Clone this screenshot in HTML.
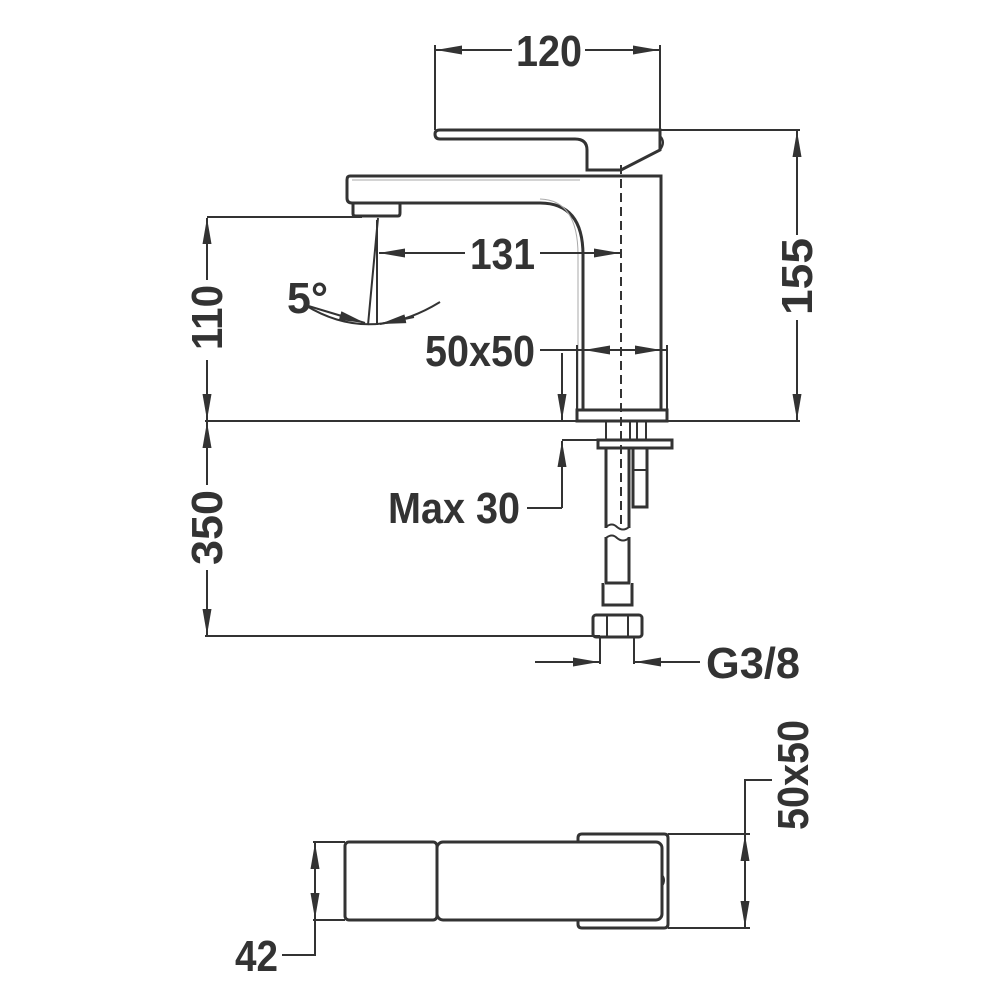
<!DOCTYPE html>
<html><head><style>body{margin:0;background:#fff}svg{display:block}text{font-family:"Liberation Sans Narrow","Liberation Sans",sans-serif;font-weight:bold;font-size:44px;fill:#333}</style></head><body>
<svg width="1000" height="1000" viewBox="0 0 1000 1000" xmlns="http://www.w3.org/2000/svg">
<defs><marker id="a" viewBox="0 0 26 10" refX="26" refY="5" markerWidth="26" markerHeight="10" markerUnits="userSpaceOnUse" orient="auto-start-reverse"><path d="M0,0.5 L26,5 L0,9.5z" fill="#333"/></marker></defs>
<g stroke="#333" fill="none" stroke-width="2">
<!-- 120 -->
<line x1="435" y1="45" x2="435" y2="130"/><line x1="660" y1="45" x2="660" y2="130"/>
<line x1="436" y1="50" x2="512" y2="50" marker-start="url(#a)"/><line x1="585" y1="50" x2="659" y2="50" marker-end="url(#a)"/>
<!-- lever -->
<path stroke-width="3" d="M440,130 H660 V150 L621,170 H587 V150 Q587,139 575,139 H440 Q435,139 435,134 Q435,130 440,130Z"/>
<path d="M660,136 Q666,142 660,150"/>
<!-- spout -->
<path stroke-width="3" d="M350,176 H661 V410 M583,410 V255 Q583,203 540,203 H352 Q347,203 347,198 V180 Q347,176 350,176"/>
<path stroke="#aaa" stroke-width="1" d="M352,180 H580 M578,410 V255 Q578,200 540,199"/>
<path stroke-width="3" d="M353,203 V214 Q353,216 356,216 H398 Q400,216 400,213 V203"/>
<rect x="577" y="410" width="90" height="11" stroke-width="3"/>
<line x1="621" y1="165" x2="621" y2="530" stroke-dasharray="9,5"/>
<!-- 131 -->
<line x1="379" y1="253" x2="465" y2="253" marker-start="url(#a)"/><line x1="540" y1="253" x2="620" y2="253" marker-end="url(#a)"/>
<line x1="207" y1="217" x2="362" y2="217"/>
<line x1="377" y1="220" x2="377" y2="325"/><line x1="378" y1="218" x2="368" y2="325"/>
<path d="M305,305 Q370,345 440,302"/>
<line x1="305" y1="305" x2="365" y2="323" marker-end="url(#a)"/><line x1="414" y1="317" x2="380" y2="324" marker-end="url(#a)"/>
<!-- 110 / 350 -->
<line x1="207" y1="218" x2="207" y2="280" marker-start="url(#a)"/><line x1="207" y1="360" x2="207" y2="420" marker-end="url(#a)"/>
<line x1="205" y1="421" x2="800" y2="421"/>
<line x1="207" y1="422" x2="207" y2="485" marker-start="url(#a)"/><line x1="207" y1="570" x2="207" y2="635" marker-end="url(#a)"/>
<line x1="205" y1="636" x2="600" y2="636"/>
<!-- 155 -->
<line x1="660" y1="130" x2="800" y2="130"/>
<line x1="797" y1="131" x2="797" y2="235" marker-start="url(#a)"/><line x1="797" y1="320" x2="797" y2="420" marker-end="url(#a)"/>
<!-- 50x50 -->
<line x1="577" y1="345" x2="577" y2="410"/><line x1="667" y1="345" x2="667" y2="410"/>
<line x1="540" y1="350" x2="667" y2="350"/>
<line x1="621" y1="350" x2="584" y2="350" marker-end="url(#a)"/><line x1="621" y1="350" x2="661" y2="350" marker-end="url(#a)"/>
<!-- max 30 -->
<line x1="562" y1="353" x2="562" y2="420" marker-end="url(#a)"/>
<line x1="562" y1="508" x2="562" y2="441" marker-end="url(#a)"/>
<line x1="562" y1="440" x2="600" y2="440"/><line x1="527" y1="508" x2="562" y2="508"/>
<!-- under base -->
<rect x="606" y="421" width="40" height="19"/>
<line x1="630" y1="421" x2="630" y2="440"/><line x1="637" y1="421" x2="637" y2="440"/>
<rect x="598" y="440" width="74" height="8" stroke-width="3"/>
<path stroke-width="3" d="M606,448 V528 M629,448 V528 M606,537 V583 M629,537 V583"/>
<path d="M606,527 Q612,522 617,527 Q623,532 629,527 M606,538 Q612,533 617,538 Q623,543 629,538"/>
<path stroke-width="3" d="M605,583 H630 M603,583 V605 H632 V583"/>
<rect x="633" y="448" width="14" height="59" stroke-width="3"/><line x1="633" y1="470" x2="647" y2="470"/>
<rect x="593" y="615" width="49" height="22" rx="3" stroke-width="3"/>
<line x1="607" y1="615" x2="607" y2="637"/><line x1="628" y1="615" x2="628" y2="637"/>
<line x1="600" y1="637" x2="600" y2="664"/><line x1="634" y1="637" x2="634" y2="664"/>
<line x1="535" y1="662" x2="599" y2="662" marker-end="url(#a)"/><line x1="700" y1="662" x2="635" y2="662" marker-end="url(#a)"/>
<!-- bottom view -->
<rect x="345" y="842" width="92" height="78" rx="4" stroke-width="3"/>
<rect x="437" y="842" width="225" height="78" rx="6" stroke-width="3"/>
<path stroke-width="3" d="M578,842 V838 Q578,834 582,834 H664 Q668,834 668,838 V924 Q668,928 664,928 H582 Q578,928 578,924 V920"/>
<path d="M662,875 Q666,880 662,886"/>
<line x1="313" y1="842" x2="345" y2="842"/><line x1="313" y1="920" x2="345" y2="920"/>
<line x1="315" y1="843" x2="315" y2="880" marker-start="url(#a)"/><line x1="315" y1="880" x2="315" y2="919" marker-end="url(#a)"/>
<path d="M315,920 V955 H282"/>
<line x1="668" y1="834" x2="750" y2="834"/><line x1="668" y1="928" x2="750" y2="928"/>
<line x1="745" y1="835" x2="745" y2="880" marker-start="url(#a)"/><line x1="745" y1="880" x2="745" y2="927" marker-end="url(#a)"/>
<path d="M745,834 V780 H772"/>
</g>
<g lengthAdjust="spacingAndGlyphs">
<text x="516" y="66" textLength="66" lengthAdjust="spacingAndGlyphs">120</text>
<text x="470" y="269" textLength="65" lengthAdjust="spacingAndGlyphs">131</text>
<text x="287" y="313" textLength="41" lengthAdjust="spacingAndGlyphs" font-size="40">5°</text>
<text x="425" y="366" textLength="110" lengthAdjust="spacingAndGlyphs">50x50</text>
<text x="388" y="523" textLength="132" lengthAdjust="spacingAndGlyphs">Max 30</text>
<text x="706" y="678" textLength="94" lengthAdjust="spacingAndGlyphs">G3/8</text>
<text x="235" y="971" textLength="43" lengthAdjust="spacingAndGlyphs">42</text>
<text transform="translate(222,350) rotate(-90)" textLength="65" lengthAdjust="spacingAndGlyphs">110</text>
<text transform="translate(222,565) rotate(-90)" textLength="75" lengthAdjust="spacingAndGlyphs">350</text>
<text transform="translate(812,315) rotate(-90)" textLength="77" lengthAdjust="spacingAndGlyphs">155</text>
<text transform="translate(808,830) rotate(-90)" textLength="110" lengthAdjust="spacingAndGlyphs">50x50</text>
</g>
</svg>
</body></html>
